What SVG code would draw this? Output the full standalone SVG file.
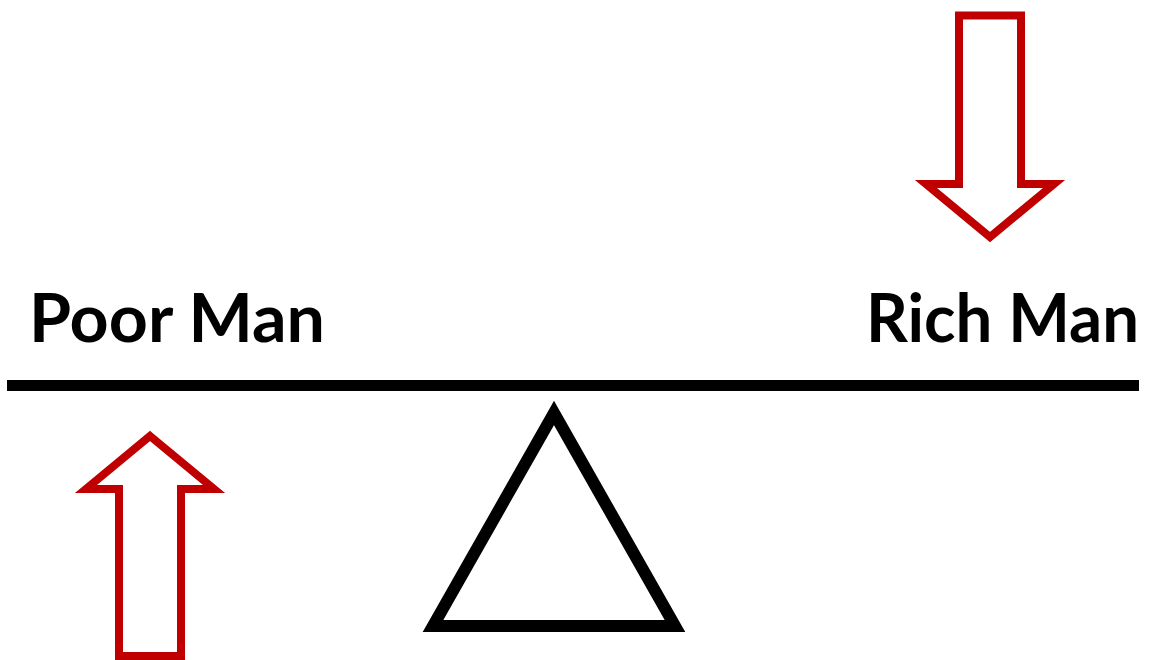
<svg xmlns="http://www.w3.org/2000/svg" width="1152" height="660" viewBox="0 0 1152 660">
  <style>
    .arrow { fill: #ffffff; stroke: #c00000; stroke-width: 8; stroke-linejoin: miter; }
    .label { font-family: Lato, "Open Sans", "Liberation Sans", sans-serif; font-weight: bold; font-size: 66px; fill: #000000; }
  </style>
  <rect x="0" y="0" width="1152" height="660" fill="#ffffff"/>
  <g id="beam">
    <line x1="7" y1="385.5" x2="1139" y2="385.5" stroke="#000000" stroke-width="11"/>
  </g>
  <g id="fulcrum">
    <polygon points="554,413 433,626 675,626" fill="#ffffff" stroke="#000000" stroke-width="12"/>
  </g>
  <g id="poor-man">
    <text class="label" x="29" y="342" textLength="296" lengthAdjust="spacingAndGlyphs">Poor Man</text>
  </g>
  <g id="rich-man">
    <text class="label" x="866" y="342" textLength="273" lengthAdjust="spacingAndGlyphs">Rich Man</text>
  </g>
  <g id="connectors">
    <g id="arrow-down">
      <polygon class="arrow" points="959,15.5 1021,15.5 1021,184 1054,184 990,237 926,184 959,184"/>
    </g>
    <g id="arrow-up">
      <polygon class="arrow" points="150,436 214,489 181,489 181,656 119,656 119,489 86,489"/>
    </g>
  </g>
</svg>
